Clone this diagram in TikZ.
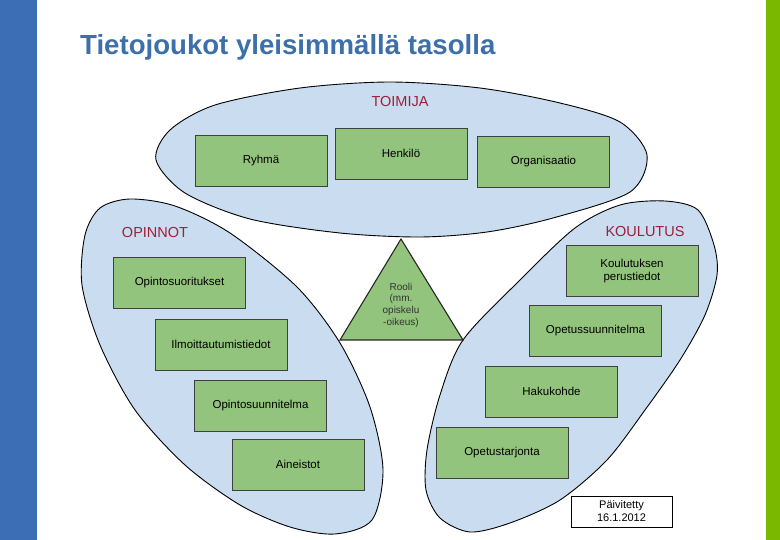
\documentclass[tikz,border=0pt]{standalone}
\usepackage{fontspec}
\setmainfont{Liberation Sans}
\usepackage{tikz}
\usetikzlibrary{calc}

\definecolor{barblue}{HTML}{3C6EB5}
\definecolor{bargreen}{HTML}{7AB800}
\definecolor{setblue}{HTML}{CADCF0}
\definecolor{boxgreen}{HTML}{93C47D}
\definecolor{labelred}{HTML}{9E1F3A}
\definecolor{titleblue}{HTML}{3D6FA9}

\begin{document}
\begin{tikzpicture}[x=1pt,y=-1pt,
  setshape/.style={draw=black, fill=setblue, line width=0.9pt},
  databox/.style={draw=black!75, fill=boxgreen, line width=0.7pt, minimum width=132pt, minimum height=51pt, inner sep=2pt, align=center, font=\fontsize{11.5}{13.5}\selectfont},
  setlabel/.style={text=labelred, inner sep=0pt, font=\fontsize{14.5}{16}\selectfont}
]

% Frame
\useasboundingbox (0,0) rectangle (780,540);
\fill[barblue] (0,0) rectangle (37,540);
\fill[bargreen] (766,0) rectangle (780,540);

% Title
\node[anchor=base west, text=titleblue, inner sep=0pt, font=\bfseries\fontsize{27.6}{30}\selectfont] (title) at (80,55) {Tietojoukot yleisimmällä tasolla};

% Toimija
\draw[setshape] plot[smooth cycle] coordinates {(156,160) (170,130) (215,105) (300,88) (390,82) (480,88) (560,103) (620,122) (647,155) (630,192) (553,218) (487,232) (420,237) (340,233) (250,219) (185,193)};
\node[setlabel] (toimija) at (400,102) {TOIMIJA};
\node[databox] (ryhma) at (261,160.5) {Ryhmä};
\node[databox] (henkilo) at (401,153.5) {Henkilö};
\node[databox] (organisaatio) at (543.5,161.5) {Organisaatio};

% Opinnot
\draw[setshape] plot[smooth cycle] coordinates {(130,199) (175,206) (230,233) (297,287) (340,343) (370,407) (383,470) (372,520) (335,534) (290,527) (240,505) (185,465) (135,410) (100,345) (82,285) (85,235) (100,208)};
\node[setlabel] (opinnot) at (155,233) {OPINNOT};
\node[databox] (suoritukset) at (179.5,283) {Opintosuoritukset};
\node[databox] (ilmoittautumiset) at (221,344.5) {Ilmoittautumistiedot};
\node[databox] (opsuunnitelma) at (260.5,405.5) {Opintosuunnitelma};
\node[databox] (aineistot) at (298,464.5) {Aineistot};

% Koulutus
\draw[setshape] plot[smooth cycle] coordinates {(620,205) (665,201) (698,210) (714,245) (717,275) (705,315) (680,360) (645,410) (607,460) (560,500) (510,523) (470,532) (440,518) (426,490) (427,450) (440,395) (463,340) (520,280) (575,228)};
\node[setlabel] (koulutus) at (645,232) {KOULUTUS};
\node[databox] (perustiedot) at (632,271) {Koulutuksen\\perustiedot};
\node[databox] (opetussuunnitelma) at (595.5,331) {Opetussuunnitelma};
\node[databox] (hakukohde) at (551.5,391.5) {Hakukohde};
\node[databox] (tarjonta) at (502,453) {Opetustarjonta};

% Role
\coordinate (roletop) at (401,239);
\coordinate (roleleft) at (340,340);
\coordinate (roleright) at (463,340);
\draw[fill=boxgreen, draw=black!85, line width=1.1pt] (roletop) -- (roleleft) -- (roleright) -- cycle;
\node[align=center, text=black!80, font=\fontsize{10}{11.7}\selectfont] (rooli) at (401,305) {Rooli\\(mm.\\opiskelu\\-oikeus)};

% Updated
\node[draw=black, fill=white, line width=0.7pt, minimum width=101pt, minimum height=31pt, inner sep=1pt, align=center, font=\fontsize{11}{13}\selectfont] (paivitetty) at (621.5,511.5) {Päivitetty\\16.1.2012};

\end{tikzpicture}
\end{document}
